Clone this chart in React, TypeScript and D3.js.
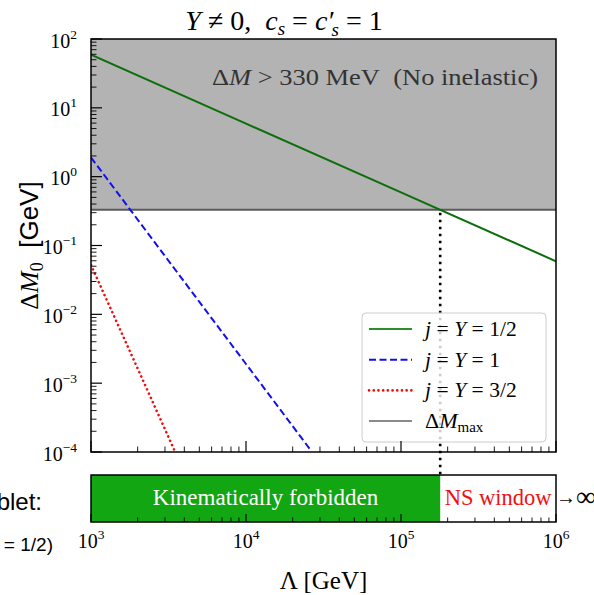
import React from "react";
import * as d3 from "d3";

// ---- data ----
const lambdaPts = [1e3, 1e4, 1e5, 1e6];
const dmHalf = [59, 5.9, 0.59, 0.059]; // j = Y = 1/2
const lambdaOne = [1e3, 1e4, 2.6e4];
const dmOne = [1.9, 1.9e-3, 1.08e-4]; // j = Y = 1
const lambdaThreeHalf = [1e3, 2e3, 3.55e3];
const dmThreeHalf = [0.052, 1.63e-3, 9.2e-5]; // j = Y = 3/2
const dmMax = 0.33; // GeV
const lambdaCross = 1.79e5;
const xTickExps = [3, 4, 5, 6];
const yTickExps = [2, 1, 0, -1, -2, -3, -4];

const W = 594;
const H = 595;
const L = 91, R = 556, T = 39, B = 452;
const barT = 475, barB = 522;

const serif = "'Liberation Serif', 'DejaVu Serif', serif";
const sans = "'Liberation Sans', Arial, sans-serif";

export default function App() {
  const x = d3.scaleLog().domain([1e3, 1e6]).range([L, R]);
  const y = d3.scaleLog().domain([1e-4, 1e2]).range([B, T]);
  const line = d3
    .line<[number, number]>()
    .x((d) => x(d[0]))
    .y((d) => y(d[1]));

  const zip = (a: number[], b: number[]) => a.map((v, i) => [v, b[i]] as [number, number]);

  const minorX: number[] = [];
  for (let e = 3; e < 6; e++) for (let m = 2; m <= 9; m++) minorX.push(m * Math.pow(10, e));
  const minorY: number[] = [];
  for (let e = -4; e < 2; e++) for (let m = 2; m <= 9; m++) minorY.push(m * Math.pow(10, e));

  const minus = (n: number) => (n < 0 ? "\u2212" + Math.abs(n) : String(n));

  const legendItems = [
    { label: "1/2", color: "#2a8f2a", dash: "", cap: "butt", w: 2 },
    { label: "1", color: "#1010ee", dash: "7 3.5", cap: "butt", w: 2 },
    { label: "3/2", color: "#ee1010", dash: "0.1 4.6", cap: "round", w: 2.6 },
  ];

  return (
    <svg width={W} height={H} style={{ position: "absolute", left: 0, top: 0 }}>
      <defs>
        <clipPath id="plot">
          <rect x={L} y={T} width={R - L} height={B - T} />
        </clipPath>
      </defs>
      <rect x={0} y={0} width={W} height={H} fill="white" />

      {/* excluded region */}
      <rect x={L} y={T} width={R - L} height={y(dmMax) - T} fill="#b3b3b3" />
      <line x1={L} x2={R} y1={y(dmMax)} y2={y(dmMax)} stroke="#5a5a5a" strokeWidth={2} />
      <text x={212} y={85} fontFamily={serif} fontSize={23} fill="#333" textLength={326} lengthAdjust="spacingAndGlyphs">
        Δ<tspan fontStyle="italic">M</tspan> {">"} 330 MeV{"\u00a0\u00a0"}(No inelastic)
      </text>

      <g clipPath="url(#plot)">
        <path d={line(zip(lambdaPts, dmHalf)) || ""} fill="none" stroke="#0b6e0b" strokeWidth={2} />
        <path d={line(zip(lambdaOne, dmOne)) || ""} fill="none" stroke="#1010ee" strokeWidth={2} strokeDasharray="7 3.5" />
        <path d={line(zip(lambdaThreeHalf, dmThreeHalf)) || ""} fill="none" stroke="#ee1010" strokeWidth={2.6} strokeDasharray="0.1 4.6" strokeLinecap="round" />
      </g>

      {/* vertical dotted line */}
      <line x1={x(lambdaCross)} x2={x(lambdaCross)} y1={y(dmMax) + 3} y2={barT} stroke="black" strokeWidth={2.6} strokeDasharray="2.4 4.6" />

      {/* legend */}
      <g>
        <rect x={362} y={313} width={184} height={129} rx={4} fill="white" fillOpacity={0.8} stroke="#cccccc" strokeWidth={1} />
        {legendItems.map((it, i) => (
          <g key={i}>
            <line x1={369} x2={412} y1={329 + i * 30.7} y2={329 + i * 30.7} stroke={it.color} strokeWidth={it.w} strokeDasharray={it.dash} strokeLinecap={it.cap as any} />
            <text x={425} y={336 + i * 30.7} fontFamily={serif} fontSize={21.5}>
              <tspan fontStyle="italic">j</tspan>
              <tspan dx={5.5}>=</tspan>
              <tspan dx={5.5} fontStyle="italic">Y</tspan>
              <tspan dx={5.5}>=</tspan>
              <tspan dx={5.5}>{it.label}</tspan>
            </text>
          </g>
        ))}
        <line x1={369} x2={412} y1={421} y2={421} stroke="#8a8a8a" strokeWidth={2} />
        <text x={425} y={428} fontFamily={serif} fontSize={22}>
          Δ<tspan fontStyle="italic">M</tspan>
          <tspan fontSize={15} dy={4}>max</tspan>
        </text>
      </g>

      {/* axes frame */}
      <rect x={L} y={T} width={R - L} height={B - T} fill="none" stroke="black" strokeWidth={1.5} />
      {yTickExps.map((e) => (
        <line key={"ym" + e} x1={L} x2={L + 11} y1={y(Math.pow(10, e))} y2={y(Math.pow(10, e))} stroke="black" strokeWidth={1.2} />
      ))}
      {minorY.map((v, i) => (
        <line key={"yn" + i} x1={L} x2={L + 5.5} y1={y(v)} y2={y(v)} stroke="black" strokeWidth={0.9} />
      ))}
      {xTickExps.map((e) => (
        <line key={"xm" + e} x1={x(Math.pow(10, e))} x2={x(Math.pow(10, e))} y1={B} y2={B - 11} stroke="black" strokeWidth={1.2} />
      ))}
      {minorX.map((v, i) => (
        <line key={"xn" + i} x1={x(v)} x2={x(v)} y1={B} y2={B - 5.5} stroke="black" strokeWidth={0.9} />
      ))}

      {/* y tick labels */}
      {yTickExps.map((e) => (
        <text key={"yl" + e} x={77} y={y(Math.pow(10, e)) + 8.5} fontFamily={serif} fontSize={20} textAnchor="end">
          10
          <tspan fontSize={13.5} dy={-9}>{minus(e)}</tspan>
        </text>
      ))}

      {/* y label */}
      <text transform={`translate(38, ${(T + B) / 2}) rotate(-90)`} textAnchor="middle" fontSize={26}>
        <tspan fontFamily={serif}>Δ</tspan>
        <tspan fontFamily={serif} fontStyle="italic">M</tspan>
        <tspan fontFamily={serif} fontSize={18} dy={5}>0</tspan>
        <tspan fontFamily={sans} dy={-5}>{"\u00a0\u00a0"}[GeV]</tspan>
      </text>

      {/* title */}
      <text x={284} y={30} fontFamily={serif} fontSize={28} textAnchor="middle">
        <tspan fontStyle="italic">Y</tspan> ≠ 0,{"\u00a0\u00a0"}
        <tspan fontStyle="italic">c</tspan>
        <tspan fontStyle="italic" fontSize={19} dy={5}>s</tspan>
        <tspan dy={-5}> = </tspan>
        <tspan fontStyle="italic">c′</tspan>
        <tspan fontStyle="italic" fontSize={19} dy={6} dx={-2}>s</tspan>
        <tspan dy={-6}> = 1</tspan>
      </text>

      {/* bottom bar */}
      <rect x={L} y={barT} width={x(lambdaCross) - L} height={barB - barT} fill="#12a612" />
      <rect x={L} y={barT} width={R - L} height={barB - barT} fill="none" stroke="black" strokeWidth={1.5} />
      {xTickExps.map((e) => (
        <line key={"bm" + e} x1={x(Math.pow(10, e))} x2={x(Math.pow(10, e))} y1={barB} y2={barB - 8} stroke="black" strokeWidth={1.2} />
      ))}
      {minorX.map((v, i) => (
        <line key={"bn" + i} x1={x(v)} x2={x(v)} y1={barB} y2={barB - 4.5} stroke="black" strokeWidth={0.9} />
      ))}
      <text x={(L + x(lambdaCross)) / 2} y={505} fontFamily={serif} fontSize={23} fill="white" textAnchor="middle">
        Kinematically forbidden
      </text>
      <text x={(x(lambdaCross) + R) / 2} y={505} fontFamily={serif} fontSize={22.5} fill="#ee1111" textAnchor="middle">
        NS window
      </text>
      <text x={556} y={504} fontFamily={serif} fontSize={20}>
        →<tspan fontSize={28} dy={2}>∞</tspan>
      </text>

      {/* x tick labels */}
      {xTickExps.map((e) => (
        <text key={"xl" + e} x={x(Math.pow(10, e))} y={548} fontFamily={serif} fontSize={20} textAnchor="middle">
          10
          <tspan fontSize={13.5} dy={-9}>{e}</tspan>
        </text>
      ))}
      <text x={(L + R) / 2} y={589} fontFamily={serif} fontSize={25} textAnchor="middle">
        Λ [GeV]
      </text>

      {/* clipped side labels */}
      <text x={42} y={510} fontFamily={sans} fontSize={24} textAnchor="end">
        Doublet:
      </text>
      <text x={53} y={551} fontFamily={sans} fontSize={19} textAnchor="end">
        (j = Y = 1/2)
      </text>
    </svg>
  );
}
